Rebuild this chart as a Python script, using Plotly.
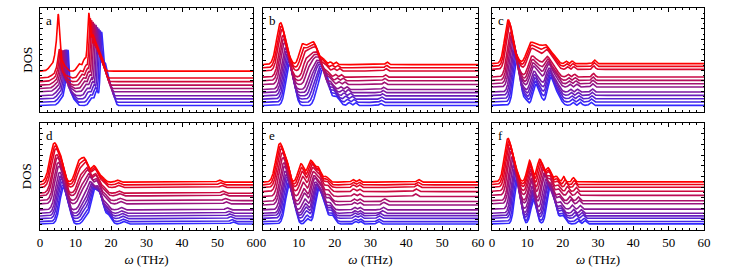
import numpy as np
import plotly.graph_objects as go

OMEGA = np.linspace(0, 60, 1501)
PANEL_LABELS = ["a", "b", "c", "d", "e", "f"]
X_TICKS = [0, 10, 20, 30, 40, 50, 60]

# baseline (vertical offset) of each curve, top (red) to bottom (blue)
BASE_A = [0.393, 0.327, 0.292, 0.258, 0.226, 0.195, 0.157, 0.126, 0.094, 0.063]
BASE_B = [0.456, 0.425, 0.394, 0.335, 0.301, 0.264, 0.217, 0.186, 0.155, 0.124, 0.093, 0.062]
BASE_C = [0.465, 0.439, 0.410, 0.337, 0.304, 0.272, 0.240, 0.192, 0.160, 0.128, 0.096, 0.064]
BASE_D = [0.447, 0.422, 0.397, 0.344, 0.319, 0.275, 0.244, 0.188, 0.156, 0.131, 0.106, 0.078, 0.056]
BASE_E = [0.447, 0.422, 0.397, 0.359, 0.313, 0.266, 0.234, 0.188, 0.156, 0.134, 0.109, 0.078, 0.056]
BASE_F = [0.450, 0.425, 0.400, 0.362, 0.324, 0.274, 0.245, 0.195, 0.157, 0.132, 0.110, 0.079, 0.057]

# position of each curve between the top-curve and bottom-curve peak sets
MIX_A = [0.0, 0.11, 0.22, 0.33, 0.44, 0.56, 0.67, 0.78, 0.89, 1.0]
MIX_B = [0.0, 0.09, 0.18, 0.27, 0.36, 0.45, 0.55, 0.64, 0.73, 0.82, 0.91, 1.0]
MIX_C = [0.0, 0.09, 0.18, 0.27, 0.36, 0.45, 0.55, 0.64, 0.73, 0.82, 0.91, 1.0]
MIX_D = [0.0, 0.08, 0.17, 0.25, 0.33, 0.42, 0.50, 0.58, 0.67, 0.75, 0.83, 0.92, 1.0]
MIX_E = [0.0, 0.08, 0.17, 0.25, 0.33, 0.42, 0.50, 0.58, 0.67, 0.75, 0.83, 0.92, 1.0]
MIX_F = [0.0, 0.08, 0.17, 0.25, 0.33, 0.42, 0.50, 0.58, 0.67, 0.75, 0.83, 0.92, 1.0]

# relative height of the low-frequency peak of each curve in panel a
LOW_A = [1.0, 0.51, 0.57, 0.63, 0.69, 0.76, 0.85, 0.92, 0.99, 1.06]

# DOS peaks: (omega THz, height, width THz)
TOP_A = [(3.5, 0.06, 0.9), (4.5, 0.15, 0.45), (5.15, 0.46, 0.33), (6.0, 0.10, 0.5), (7.2, 0.04, 0.5),
         (11.0, 0.07, 0.6), (12.6, 0.12, 0.5), (13.7, 0.47, 0.33), (14.7, 0.30, 0.6), (16.0, 0.22, 0.7),
         (17.3, 0.12, 0.6)]
BOT_A = [(6.3, 0.06, 0.9), (7.3, 0.15, 0.45), (7.9, 0.40, 0.33), (8.7, 0.10, 0.5), (9.8, 0.04, 0.5),
         (14.5, 0.07, 0.6), (16.0, 0.14, 0.5), (17.3, 0.58, 0.33), (18.2, 0.35, 0.6), (19.4, 0.20, 0.7),
         (20.6, 0.10, 0.5)]
TOP_B = [(4.9, 0.40, 1.1), (7.0, 0.06, 0.8), (10.9, 0.18, 0.8), (12.6, 0.15, 0.8), (14.2, 0.19, 0.8),
         (16.3, 0.07, 0.9), (18.8, 0.025, 0.35), (20.3, 0.025, 0.35), (34.6, 0.025, 0.35)]
BOT_B = [(7.4, 0.40, 1.0), (9.2, 0.05, 0.6), (14.8, 0.08, 0.7), (16.3, 0.28, 0.8), (17.8, 0.25, 0.8),
         (20.3, 0.09, 1.0), (24.0, 0.03, 0.4), (25.8, 0.03, 0.4), (32.8, 0.02, 0.35)]
TOP_C = [(4.6, 0.42, 1.0), (6.8, 0.06, 0.8), (10.8, 0.18, 1.05), (13.0, 0.15, 1.1), (15.3, 0.16, 1.05),
         (17.5, 0.07, 0.9), (21.0, 0.025, 0.35), (22.7, 0.025, 0.35), (29.0, 0.035, 0.4)]
BOT_C = [(7.1, 0.46, 0.9), (9.5, 0.05, 0.6), (12.4, 0.20, 0.8), (13.9, 0.05, 0.6), (16.6, 0.26, 0.9),
         (18.6, 0.10, 0.9), (22.9, 0.03, 0.4), (25.0, 0.03, 0.4), (28.0, 0.03, 0.4)]
TOP_D = [(4.0, 0.36, 1.2), (6.0, 0.14, 0.8), (10.8, 0.17, 0.9), (12.6, 0.20, 0.9), (15.2, 0.15, 0.9),
         (17.3, 0.05, 0.8), (21.8, 0.02, 0.5), (50.5, 0.02, 0.5)]
BOT_D = [(6.6, 0.34, 1.0), (8.3, 0.08, 0.6), (13.0, 0.06, 0.8), (15.2, 0.28, 0.9), (17.0, 0.25, 0.9),
         (19.3, 0.08, 0.8), (23.5, 0.025, 0.6), (54.3, 0.02, 0.5)]
TOP_E = [(4.7, 0.36, 1.1), (6.6, 0.14, 0.7), (10.6, 0.17, 0.8), (13.3, 0.20, 0.9), (15.4, 0.13, 0.8),
         (17.6, 0.05, 0.7), (25.1, 0.025, 0.4), (26.8, 0.025, 0.4)]
BOT_E = [(7.3, 0.36, 1.0), (9.0, 0.08, 0.6), (12.5, 0.05, 0.6), (15.3, 0.26, 0.8), (16.8, 0.20, 0.9),
         (19.3, 0.08, 0.8), (25.8, 0.025, 0.4), (27.2, 0.025, 0.4)]
TOP_F = [(4.5, 0.40, 1.0), (6.5, 0.12, 0.8), (10.6, 0.20, 0.7), (13.5, 0.21, 0.8), (15.9, 0.13, 0.8),
         (18.2, 0.05, 0.6), (20.3, 0.05, 0.35), (23.0, 0.04, 0.35)]
BOT_F = [(7.2, 0.42, 0.8), (8.6, 0.06, 0.4), (11.8, 0.22, 0.8), (16.3, 0.30, 0.8), (17.6, 0.18, 0.8),
         (20.0, 0.08, 0.8), (24.4, 0.03, 0.4), (26.3, 0.03, 0.4)]

# isolated high-frequency bump of each curve in panel e (omega THz)
BUMP_E = [43.4, 43.2, 43.0, 42.7, 42.5, 33.9, 33.7, 33.5, 33.3, 32.6, 32.4, 32.3, 32.2]

PANELS = [
    (BASE_A, MIX_A, TOP_A, BOT_A, None, LOW_A),
    (BASE_B, MIX_B, TOP_B, BOT_B, None, None),
    (BASE_C, MIX_C, TOP_C, BOT_C, None, None),
    (BASE_D, MIX_D, TOP_D, BOT_D, None, None),
    (BASE_E, MIX_E, TOP_E, BOT_E, BUMP_E, None),
    (BASE_F, MIX_F, TOP_F, BOT_F, None, None),
]

RED = np.array([255, 0, 0])
BLUE = np.array([50, 40, 255])

COL_DOM = [[0.0, 0.3208], [0.3358, 0.6596], [0.6807, 1.0]]
ROW_DOM = [[0.5315, 1.0], [0.0, 0.482]]

fig = go.Figure()
FONT = "Liberation Serif, Times New Roman, serif"

for p, (base, mix, top, bot, bumps, low) in enumerate(PANELS):
    n = len(base)
    ax = p + 1
    xref = "x" if ax == 1 else f"x{ax}"
    yref = "y" if ax == 1 else f"y{ax}"
    # draw bottom curve first, top (red) last
    for i in reversed(range(n)):
        m = mix[i]
        y = np.full_like(OMEGA, base[i])
        for k, ((p0, h0, w0), (p1, h1, w1)) in enumerate(zip(top, bot)):
            pos = p0 + (p1 - p0) * m
            h = h0 + (h1 - h0) * m
            w = w0 + (w1 - w0) * m
            if low is not None and k < 5:
                h = h * low[i]
            y = y + h * np.exp(-0.5 * ((OMEGA - pos) / w) ** 2)
        if bumps is not None:
            y = y + 0.025 * np.exp(-0.5 * ((OMEGA - bumps[i]) / 0.45) ** 2)
        c = RED + (BLUE - RED) * (i / (n - 1))
        fig.add_trace(go.Scatter(
            x=OMEGA, y=y, mode="lines", xaxis=xref, yaxis=yref,
            line=dict(color=f"rgb({int(c[0])},{int(c[1])},{int(c[2])})", width=1.6),
            showlegend=False, hoverinfo="skip"))
    row = p // 3
    col = p % 3
    xa = dict(domain=COL_DOM[col], range=[0, 60], anchor=yref, showgrid=False, zeroline=False,
              showline=True, linecolor="black", linewidth=1, mirror="allticks", automargin=False,
              ticks="inside", ticklen=4, tickcolor="black", tickvals=X_TICKS,
              minor=dict(dtick=2, ticks="inside", ticklen=2, tickcolor="black"),
              showticklabels=(row == 1),
              tickfont=dict(family=FONT, size=13, color="black"))
    if row == 1:
        xa["title"] = dict(text="<i>ω</i> (THz)", font=dict(family=FONT, size=13, color="black"), standoff=6)
    ya = dict(domain=ROW_DOM[row], range=[0, 1], anchor=xref, showgrid=False, zeroline=False,
              showline=True, linecolor="black", linewidth=1, mirror="allticks", automargin=False,
              ticks="inside", ticklen=3, tickcolor="black", dtick=0.1,
              minor=dict(dtick=0.05, ticks="inside", ticklen=1.5, tickcolor="black"),
              showticklabels=False)
    fig.layout["xaxis" if ax == 1 else f"xaxis{ax}"] = xa
    fig.layout["yaxis" if ax == 1 else f"yaxis{ax}"] = ya
    fig.add_annotation(text=PANEL_LABELS[p], xref=f"{xref} domain", yref=f"{yref} domain",
                       x=0.02, y=0.97, xanchor="left", yanchor="top", showarrow=False,
                       font=dict(family=FONT, size=13, color="black"))

for r in range(2):
    fig.add_annotation(text="DOS", xref="paper", yref="paper", x=-0.02,
                       y=(ROW_DOM[r][0] + ROW_DOM[r][1]) / 2, xanchor="center", yanchor="middle",
                       textangle=-90, showarrow=False,
                       font=dict(family=FONT, size=13, color="black"))

fig.update_layout(width=730, height=276, margin=dict(l=40, r=26, t=8, b=46),
                  paper_bgcolor="white", plot_bgcolor="white")
fig.write_html("out.html", post_script="document.body.style.margin='0';",
               config={"displayModeBar": False})
